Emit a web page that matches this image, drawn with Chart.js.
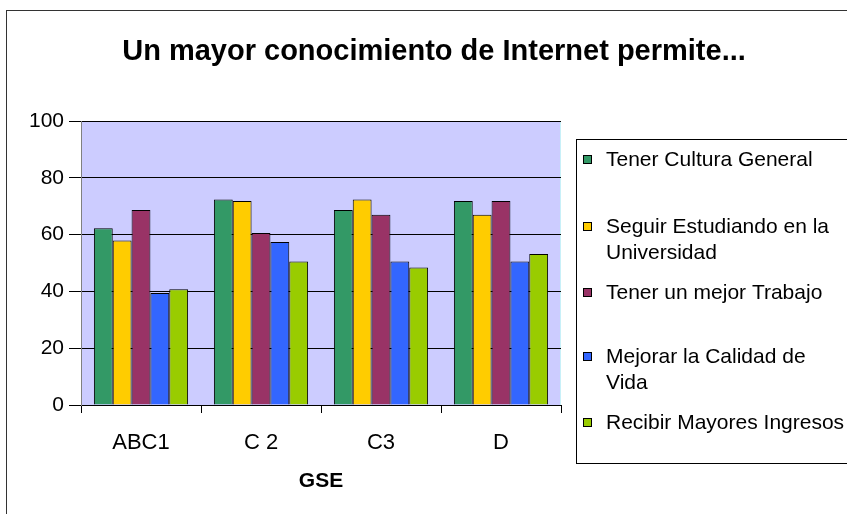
<!DOCTYPE html>
<html>
<head>
<meta charset="utf-8">
<script src="https://cdn.jsdelivr.net/npm/chart.js@4/dist/chart.umd.min.js"></script>
<style>
  html, body { margin: 0; padding: 0; background: #fff; }
  canvas { display: block; }
</style>
</head>
<body>
<canvas id="chart" width="847" height="514"></canvas>
<script>
// DATA
const categories = ["ABC1", "C 2", "C3", "D"];
const seriesNames = [
    "Tener Cultura General",
    ["Seguir Estudiando en la", "Universidad"],
    "Tener un mejor Trabajo",
    ["Mejorar la Calidad de", "Vida"],
    "Recibir Mayores Ingresos"
];
const culturaGeneral = [62.2, 72.4, 68.7, 71.8];
const seguirEstudiando = [57.9, 71.8, 72.4, 67.0];
const mejorTrabajo = [68.7, 60.6, 67.0, 71.8];
const calidadVida = [39.4, 57.4, 50.5, 50.5];
const mayoresIngresos = [40.8, 50.5, 48.4, 53.2];
const yTicks = [0, 20, 40, 60, 80, 100];

const colors = ["#339966", "#FFCC00", "#993366", "#3366FF", "#99CC00"];
const font = "'Liberation Sans', Arial, sans-serif";

// background, outer frame, title
const framePlugin = {
    id: "frame",
    beforeDraw(chart) {
        const ctx = chart.ctx;
        const a = chart.chartArea;
        ctx.save();
        ctx.fillStyle = "#fff";
        ctx.fillRect(0, 0, chart.width, chart.height);
        ctx.strokeStyle = "#333";
        ctx.lineWidth = 1;
        ctx.strokeRect(6.5, 10.5, 900, 600);
        ctx.fillStyle = "#CCCCFF";
        ctx.fillRect(a.left, a.top, a.right - a.left, a.bottom - a.top);
        ctx.strokeStyle = "#C8F0F8";
        ctx.strokeRect(a.left + 0.5, a.top + 0.5, a.right - a.left - 1, a.bottom - a.top);
        ctx.fillStyle = "#000";
        ctx.font = "bold 29px " + font;
        ctx.textAlign = "center";
        ctx.textBaseline = "alphabetic";
        ctx.fillText("Un mayor conocimiento de Internet permite...", 434, 60);
        ctx.restore();
    }
};

// LEGEND BOX ON THE RIGHT
const legendPlugin = {
    id: "boxLegend",
    afterDraw(chart) {
        const ctx = chart.ctx;
        ctx.save();
        ctx.strokeStyle = "#000";
        ctx.lineWidth = 1;
        ctx.strokeRect(576.5, 139.5, 280, 324);
        const rows = [160, 227, 293, 357, 423];
        ctx.font = "21px " + font;
        ctx.textAlign = "left";
        ctx.textBaseline = "middle";
        chart.data.datasets.forEach((ds, i) => {
            const y = rows[i];
            ctx.fillStyle = ds.backgroundColor;
            ctx.fillRect(583, y - 5, 9, 9);
            ctx.strokeStyle = "#000";
            ctx.strokeRect(583.5, y - 4.5, 8, 8);
            ctx.fillStyle = "#000";
            const lines = Array.isArray(ds.label) ? ds.label : [ds.label];
            lines.forEach((t, j) => ctx.fillText(t, 606, y + j * 26.5));
        });
        ctx.restore();
    }
};

const seriesValues = [culturaGeneral, seguirEstudiando, mejorTrabajo, calidadVida, mayoresIngresos];

new Chart(document.getElementById("chart"), {
    type: "bar",
    data: {
        labels: categories,
        datasets: seriesValues.map((vals, i) => ({
            label: seriesNames[i],
            data: vals,
            backgroundColor: colors[i],
            borderColor: "#000",
            borderWidth: 1,
            categoryPercentage: 0.785,
            barPercentage: 1
        }))
    },
    options: {
        responsive: false,
        animation: false,
        layout: { padding: { top: 121, right: 286, bottom: 0, left: 0 } },
        plugins: {
            legend: { display: false },
            tooltip: { enabled: false }
        },
        scales: {
            x: {
                afterFit: s => { s.height = 109; },
                grid: {
                    offset: true,
                    drawOnChartArea: false,
                    tickLength: 8,
                    color: "#000"
                },
                border: { color: "#000" },
                ticks: {
                    color: "#000",
                    padding: 17,
                    font: { family: font, size: 22 }
                },
                title: {
                    display: true,
                    text: "GSE",
                    color: "#000",
                    padding: { top: 0, bottom: 20 },
                    font: { family: font, size: 21, weight: "bold" }
                }
            },
            y: {
                min: 0,
                max: 100,
                afterFit: s => { s.width = 81; },
                afterBuildTicks: s => { s.ticks = yTicks.map(v => ({ value: v })); },
                grid: {
                    color: "#000",
                    tickLength: 12
                },
                border: { color: "#808080" },
                ticks: {
                    color: "#000",
                    padding: 5,
                    font: { family: font, size: 21 }
                }
            }
        }
    },
    plugins: [framePlugin, legendPlugin]
});
</script>
</body>
</html>
